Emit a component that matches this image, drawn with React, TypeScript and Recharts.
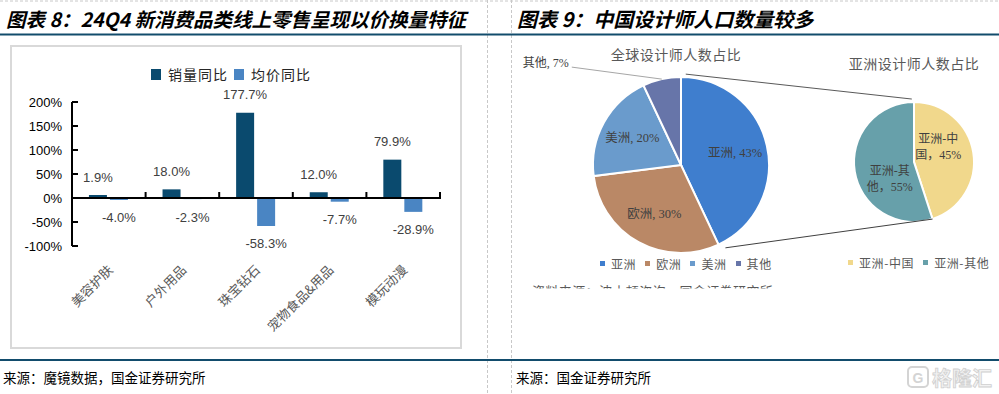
import React from 'react';
import { BarChart, Bar, XAxis, YAxis, Legend, ReferenceLine, LabelList, PieChart, Pie, Cell } from 'recharts';

// 图表8 data
const categories = ['美容护肤', '户外用品', '珠宝钻石', '宠物食品&用品', '模玩动漫'];
const volumeYoY = [1.9, 18.0, 177.7, 12.0, 79.9];
const priceYoY = [-4.0, -2.3, -58.3, -7.7, -28.9];
const yTicks = [-100, -50, 0, 50, 100, 150, 200];

// 图表9 data
const globalRegions = ['亚洲', '欧洲', '美洲', '其他'];
const globalShares = [43, 30, 20, 7];
const asiaParts = ['亚洲-中国', '亚洲-其他'];
const asiaShares = [45, 55];

const DARK = '#0A4A6E';
const LIGHT = '#4A85C3';
const GLOBAL_COLORS = ['#3F7ECE', '#BA8866', '#6A9BCC', '#6775A9'];
const ASIA_COLORS = ['#F1D88C', '#67A0AA'];
const NAVY = '#124C6C';

const CJK = "'Noto Sans CJK SC', sans-serif";
const ARIAL = "'Liberation Sans', Arial, sans-serif";
const SERIF_MIX = "'Liberation Serif', 'Noto Sans CJK SC', serif";

const barData = categories.map((name, i) => ({ name, volume: volumeYoY[i], price: priceYoY[i] }));
const globalData = globalRegions.map((name, i) => ({ name, value: globalShares[i] }));
const asiaData = asiaParts.map((name, i) => ({ name, value: asiaShares[i] }));

// pie geometry (inside their chart boxes)
const G_BOX = { left: 512, top: 36, w: 320, h: 260 };
const A_BOX = { left: 820, top: 36, w: 179, h: 260 };
const G_PIE = { cx: 169, cy: 129, r: 88 };
const A_PIE = { cx: 94, cy: 126, r: 60 };
const RAD = Math.PI / 180;

const pt = (cx: number, cy: number, r: number, clockDeg: number) => ({
  x: cx + r * Math.sin(clockDeg * RAD),
  y: cy - r * Math.cos(clockDeg * RAD),
});

const CatTick = (props: any) => {
  const { x, y, payload } = props;
  const ax = x + 1;
  const ay = y + 21;
  return (
    <text
      x={ax}
      y={ay}
      transform={`rotate(-45, ${ax}, ${ay})`}
      textAnchor="end"
      dominantBaseline="central"
      fontSize={13}
      fontFamily={CJK}
      fill="#595959"
    >
      {payload.value}
    </text>
  );
};

const TopLabel = (props: any) => {
  const { x, y, width, height, value } = props;
  const top = Math.min(y, y + height);
  return (
    <text x={x + width / 2} y={top - 18} textAnchor="middle" dominantBaseline="central" fontSize={13} fontFamily={ARIAL} fill="#404040">
      {Number(value).toFixed(1)}%
    </text>
  );
};

const BottomLabel = (props: any) => {
  const { x, y, width, height, value } = props;
  const bottom = Math.max(y, y + height);
  return (
    <text x={x + width / 2} y={bottom + 18} textAnchor="middle" dominantBaseline="central" fontSize={13} fontFamily={ARIAL} fill="#404040">
      {Number(value).toFixed(1)}%
    </text>
  );
};

// zero line acts as the category axis, with boundary ticks pointing up
const ZeroAxis = (props: any) => {
  const { x1, y1, x2 } = props;
  const step = (x2 - x1) / categories.length;
  return (
    <g>
      <line x1={x1} y1={y1} x2={x2} y2={y1} stroke="#000" strokeWidth={2} />
      {categories.map((_, i) => (
        <line key={i} x1={x1 + step * (i + 1)} x2={x1 + step * (i + 1)} y1={y1 + 1} y2={y1 - 6} stroke="#000" strokeWidth={2} />
      ))}
    </g>
  );
};

const BarLegend = () => (
  <div style={{ display: 'flex', justifyContent: 'center', alignItems: 'center', paddingTop: 2, fontFamily: CJK, fontSize: 14, color: '#262626' }}>
    {[['销量同比', DARK], ['均价同比', LIGHT]].map(([label, c]) => (
      <span key={label} style={{ display: 'flex', alignItems: 'center', marginRight: 6 }}>
        <span style={{ width: 10, height: 11, background: c, marginRight: 7, display: 'inline-block' }} />
        <span style={{ letterSpacing: 1 }}>{label}</span>
      </span>
    ))}
  </div>
);

// keep legend entries in data order, whatever order the library hands them over
const makePieLegend = (names: string[], colors: string[]) => (props: any) => {
  const { payload = [] } = props;
  const items = names
    .map((n) => payload.find((p: any) => p.value === n))
    .filter(Boolean);
  return (
    <div style={{ display: 'flex', alignItems: 'center', fontFamily: CJK, fontSize: 12, color: '#595959' }}>
      {items.map((p: any) => (
        <span key={p.value} style={{ display: 'flex', alignItems: 'center', marginRight: 9 }}>
          <span style={{ width: 5, height: 5, background: colors[names.indexOf(p.value)], marginRight: 6, display: 'inline-block' }} />
          <span style={{ letterSpacing: 0.6 }}>{p.value}</span>
        </span>
      ))}
    </div>
  );
};

const GlobalLabel = (props: any) => {
  const { cx, cy, midAngle, outerRadius, index, name, value } = props;
  const dx = Math.cos(-midAngle * RAD);
  const dy = Math.sin(-midAngle * RAD);
  const txt = `${name}, ${value}%`;
  if (index === globalRegions.length - 1) {
    const ex = cx + outerRadius * dx;
    const ey = cy + outerRadius * dy;
    const lx = ex - 90;
    const ly = ey - 12;
    return (
      <g>
        <line x1={ex} y1={ey} x2={lx} y2={ly} stroke="#A6A6A6" strokeWidth={1} />
        <text x={lx - 3} y={ly - 4} textAnchor="end" dominantBaseline="central" fontSize={12} fontFamily={SERIF_MIX} fill="#404040">
          {txt}
        </text>
      </g>
    );
  }
  const r = outerRadius * 0.63;
  return (
    <text x={cx + r * dx} y={cy + r * dy} textAnchor="middle" dominantBaseline="central" fontSize={12.5} fontFamily={SERIF_MIX} fill="#404040">
      {txt}
    </text>
  );
};

const AsiaLabel = (props: any) => {
  const { cx, cy, midAngle, outerRadius, name, value } = props;
  const a = (midAngle + 24) * RAD;
  const r = outerRadius * 0.48;
  const x = cx + r * Math.cos(-a);
  const y = cy + r * Math.sin(-a);
  return (
    <text x={x} y={y} textAnchor="middle" fontSize={12} fontFamily={SERIF_MIX} fill="#404040">
      <tspan x={x} dy={-3}>{name.slice(0, 4)}</tspan>
      <tspan x={x} dy={16}>{`${name.slice(4)}，${value}%`}</tspan>
    </text>
  );
};

export default function App() {
  // connector lines between the two pies, from the pie geometry
  const gcx = G_BOX.left + G_PIE.cx;
  const gcy = G_BOX.top + G_PIE.cy;
  const acx = A_BOX.left + A_PIE.cx;
  const acy = A_BOX.top + A_PIE.cy;
  const asiaEnd = (globalShares[0] / 100) * 360;
  const chinaEnd = (asiaShares[0] / 100) * 360;
  const top1 = pt(gcx, gcy, G_PIE.r + 3, 3);
  const top2 = pt(acx, acy, A_PIE.r + 3, -2);
  const bot1 = pt(gcx, gcy, G_PIE.r + 6, asiaEnd - 3);
  const bot2 = pt(acx, acy, A_PIE.r, chinaEnd);

  return (
    <div style={{ position: 'absolute', left: 0, top: 0, width: 999, height: 394, background: '#fff', overflow: 'hidden' }}>
      {/* chart frame of 图表8 */}
      <div style={{ position: 'absolute', left: 10, top: 45, width: 448, height: 300, border: '2.5px solid #D9D9D9' }} />

      <div style={{ position: 'absolute', left: 0, top: 0 }}>
        <BarChart width={488} height={350} data={barData} margin={{ top: 62, right: 48, bottom: 44, left: 12 }} barCategoryGap="23%" barGap={3}>
          <Legend verticalAlign="top" height={40} wrapperStyle={{ left: 20 }} content={<BarLegend />} />
          <XAxis dataKey="name" axisLine={false} tickLine={false} tickSize={0} tickMargin={0} interval={0} height={60} tick={<CatTick />} />
          <YAxis
            domain={[-100, 200]}
            ticks={yTicks}
            interval={0}
            width={60}
            tickFormatter={(v: number) => `${v}%`}
            axisLine={{ stroke: '#000', strokeWidth: 2 }}
            tickLine={{ stroke: '#000', strokeWidth: 2 }}
            tickSize={-6}
            tickMargin={16}
            tick={{ fontSize: 13, fontFamily: ARIAL, fill: '#000' }}
          />
          <Bar dataKey="volume" name="销量同比" fill={DARK} minPointSize={3} isAnimationActive={false}>
            <LabelList dataKey="volume" content={<TopLabel />} />
          </Bar>
          <Bar dataKey="price" name="均价同比" fill={LIGHT} isAnimationActive={false}>
            <LabelList dataKey="price" content={<BottomLabel />} />
          </Bar>
          <ReferenceLine y={0} shape={<ZeroAxis />} />
        </BarChart>
      </div>

      <div style={{ position: 'absolute', left: G_BOX.left, top: G_BOX.top }}>
        <PieChart width={G_BOX.w} height={G_BOX.h} margin={{ top: 0, right: 0, bottom: 0, left: 0 }}>
          <Pie
            data={globalData}
            dataKey="value"
            nameKey="name"
            cx={G_PIE.cx}
            cy={G_PIE.cy}
            outerRadius={G_PIE.r}
            startAngle={90}
            endAngle={-270}
            stroke="#fff"
            strokeWidth={2}
            label={<GlobalLabel />}
            labelLine={false}
            isAnimationActive={false}
          >
            {globalData.map((_, i) => (
              <Cell key={i} fill={GLOBAL_COLORS[i]} />
            ))}
          </Pie>
          <Legend verticalAlign="bottom" wrapperStyle={{ left: 88, top: 219, width: 200, bottom: 'auto' }} content={makePieLegend(globalRegions, GLOBAL_COLORS)} />
        </PieChart>
      </div>

      <div style={{ position: 'absolute', left: A_BOX.left, top: A_BOX.top }}>
        <PieChart width={A_BOX.w} height={A_BOX.h} margin={{ top: 0, right: 0, bottom: 0, left: 0 }}>
          <Pie
            data={asiaData}
            dataKey="value"
            nameKey="name"
            cx={A_PIE.cx}
            cy={A_PIE.cy}
            outerRadius={A_PIE.r}
            startAngle={90}
            endAngle={-270}
            stroke="#fff"
            strokeWidth={2}
            label={<AsiaLabel />}
            labelLine={false}
            isAnimationActive={false}
          >
            {asiaData.map((_, i) => (
              <Cell key={i} fill={ASIA_COLORS[i]} />
            ))}
          </Pie>
          <Legend verticalAlign="bottom" wrapperStyle={{ left: 28, top: 218, width: 160, bottom: 'auto' }} content={makePieLegend(asiaParts, ASIA_COLORS)} />
        </PieChart>
      </div>

      <svg width={999} height={394} style={{ position: 'absolute', left: 0, top: 0, pointerEvents: 'none' }}>
        <defs>
          <clipPath id="cutNote">
            <rect x={520} y={270} width={300} height={18.5} />
          </clipPath>
        </defs>
        {/* frame lines */}
        <line x1={0} y1={1} x2={999} y2={1} stroke="#C8C8C8" strokeDasharray="3 2" />
        <line x1={487.5} y1={0} x2={487.5} y2={394} stroke="#C8C8C8" strokeDasharray="3 2" />
        <line x1={511.5} y1={0} x2={511.5} y2={394} stroke="#C8C8C8" strokeDasharray="3 2" />
        <line x1={0} y1={34.5} x2={999} y2={34.5} stroke={NAVY} strokeWidth={2} />
        <line x1={0} y1={360} x2={999} y2={360} stroke={NAVY} strokeWidth={2} />

        {/* titles */}
        <text x={6} y={18} dominantBaseline="central" fontSize={19.5} fontWeight={700} fontStyle="italic" fontFamily={CJK} fill="#000">
          图表 8：24Q4 新消费品类线上零售呈现以价换量特征
        </text>
        <text x={517} y={18} dominantBaseline="central" fontSize={20} fontWeight={700} fontStyle="italic" fontFamily={CJK} fill="#000">
          图表 9：中国设计师人口数量较多
        </text>

        {/* pie titles */}
        <text x={676} y={54} textAnchor="middle" dominantBaseline="central" fontSize={14} fontFamily={CJK} fill="#595959" letterSpacing={0.5}>
          全球设计师人数占比
        </text>
        <text x={914} y={63} textAnchor="middle" dominantBaseline="central" fontSize={14} fontFamily={CJK} fill="#595959" letterSpacing={0.5}>
          亚洲设计师人数占比
        </text>

        {/* connector lines */}
        <line x1={top1.x} y1={top1.y} x2={top2.x} y2={top2.y} stroke="#595959" strokeWidth={1} />
        <line x1={bot1.x} y1={bot1.y} x2={bot2.x} y2={bot2.y} stroke="#404040" strokeWidth={1} />

        {/* partially cropped source note in the pasted picture */}
        <text x={532} y={290} dominantBaseline="central" fontSize={13} fontFamily={CJK} fill="#595959" letterSpacing={0.4} clipPath="url(#cutNote)">
          资料来源：波士顿咨询，国金证券研究所
        </text>

        {/* footers */}
        <text x={3} y={377} dominantBaseline="central" fontSize={13.5} fontFamily={CJK} fill="#000">
          来源：魔镜数据，国金证券研究所
        </text>
        <text x={516} y={377} dominantBaseline="central" fontSize={13.5} fontFamily={CJK} fill="#000">
          来源：国金证券研究所
        </text>

        {/* watermark */}
        <rect x={908} y={367} width={20} height={20} rx={4} fill="none" stroke="#D4D4D4" strokeWidth={2} />
        <text x={918} y={377.5} textAnchor="middle" dominantBaseline="central" fontSize={14} fontWeight={700} fontFamily={ARIAL} fill="#D4D4D4">
          G
        </text>
        <text x={932} y={377} dominantBaseline="central" fontSize={20} fontWeight={700} fontFamily={CJK} fill="#F2F2F2" stroke="#D0D0D0" strokeWidth={0.8}>
          格隆汇
        </text>
      </svg>
    </div>
  );
}
